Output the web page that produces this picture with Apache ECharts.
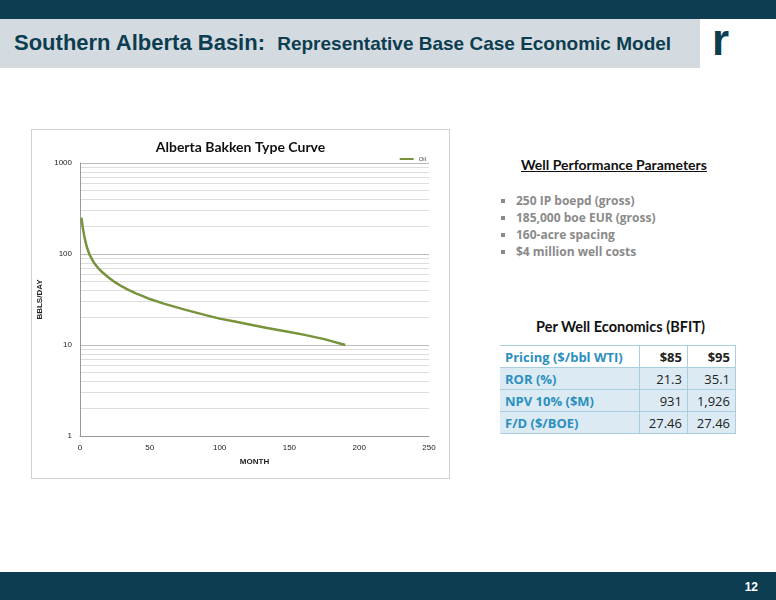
<!DOCTYPE html>
<html><head><meta charset="utf-8">
<script src="https://cdn.jsdelivr.net/npm/echarts@6/dist/echarts.min.js"></script>
<style>
body{margin:0;width:776px;height:600px;position:relative;background:#fff;font-family:Calibri,"Liberation Sans",Lato,sans-serif;overflow:hidden}
#top{position:absolute;left:0;top:0;width:776px;height:19px;background:#0d3d50}
#tbar{position:absolute;left:0;top:19px;width:700px;height:49px;background:#d3dbe0}
#title{position:absolute;left:14px;top:30px;font-family:"Liberation Sans",Arial,sans-serif;font-weight:bold;color:#0d3d50;font-size:22px}
#title span{font-size:19px}
#logo{position:absolute;left:712px;top:18px;width:46px;height:46px;color:#0d3d50;font:bold 44px "Liberation Sans";line-height:44px}
#bot{position:absolute;left:0;top:572px;width:776px;height:28px;background:#0d3d50;color:#fff;font:bold 12px "Liberation Sans"}
#bot span{position:absolute;right:18px;top:8px}
#chart{position:absolute;left:31px;top:129px;width:417px;height:348px;border:1px solid #d0d0d0}
.h{position:absolute;font-family:Lato,"Open Sans",sans-serif;font-weight:bold;color:#111}
ul{position:absolute;left:500px;top:192px;margin:0;padding:0 0 0 16px;list-style:square;color:#8a8a8a;font:bold 12px "Open Sans",sans-serif;line-height:17px}
table{position:absolute;left:500px;top:345px;border-collapse:collapse;font:13px "Open Sans",sans-serif;width:236px}
td{border:1px solid #a8cfe0;height:21px;padding:0 5px;color:#222;text-align:right}
td:first-child{text-align:left;color:#2c8fbf;border-left:none;font-weight:bold}
tr.a td{background:#dcebf3}
</style></head><body>
<div id="top"></div><div id="tbar"></div>
<div id="title">Southern Alberta Basin:&nbsp; <span>Representative Base Case Economic Model</span></div>
<div id="logo">r</div>
<div id="chart"></div>
<div class="h" style="left:521px;top:156px;font-size:14px;text-decoration:underline">Well Performance Parameters</div>
<ul><li>250 IP boepd (gross)</li><li>185,000 boe EUR (gross)</li><li>160-acre spacing</li><li>$4 million well costs</li></ul>
<div class="h" style="left:536px;top:318px;font-size:14.5px">Per Well Economics (BFIT)</div>
<table>
<tr><td>Pricing ($/bbl WTI)</td><td style="font-weight:bold">$85</td><td style="font-weight:bold">$95</td></tr>
<tr class="a"><td>ROR (%)</td><td>21.3</td><td>35.1</td></tr>
<tr class="a"><td>NPV 10% ($M)</td><td>931</td><td>1,926</td></tr>
<tr class="a"><td>F/D ($/BOE)</td><td>27.46</td><td>27.46</td></tr>
</table>
<div id="bot"><span>12</span></div>
<script>
const months=[1,2,3,4,5,7,10,13,16,20,25,30,35,40,45,50,60,75,90,100,110,125,135,150,160,175,190];
const oil=[250,195,160,135,118,97,80,70,63,56,49,44,40,37,34.5,32,28.5,24.5,21.3,19.5,18.2,16.4,15.3,13.9,13,11.6,10];
const xTicks=[0,50,100,150,200,250];
const c=echarts.init(document.getElementById('chart'));
c.setOption({
 animation:false,
 title:{text:'Alberta Bakken Type Curve',left:'center',top:5,textStyle:{fontSize:14,fontWeight:'bold',color:'#111',fontFamily:'Lato'}},
 legend:{right:18,top:21,itemWidth:14,itemHeight:2,textStyle:{fontSize:6,color:'#444'},icon:'rect',data:['Oil']},
 grid:{left:48,top:33,right:20,bottom:42,outerBoundsMode:'none',containLabel:false},
 xAxis:{type:'value',min:xTicks[0],max:xTicks[xTicks.length-1],interval:50,name:'MONTH',nameLocation:'middle',nameGap:22,
  nameTextStyle:{fontSize:8,fontWeight:'bold',color:'#222'},axisLabel:{fontSize:8,color:'#222'},
  axisLine:{lineStyle:{color:'#999'}},axisTick:{show:false},splitLine:{show:false}},
 yAxis:{type:'log',logBase:10,min:1,max:1000,name:'BBLS/DAY',nameLocation:'middle',nameGap:36,
  nameTextStyle:{fontSize:8,fontWeight:'bold',color:'#222'},axisLabel:{fontSize:8,color:'#222',formatter:v=>String(Math.round(v))},
  axisLine:{show:true,lineStyle:{color:'#999'}},axisTick:{show:false},
  splitLine:{lineStyle:{color:'#bbb'}},minorTick:{show:false,splitNumber:9},minorSplitLine:{show:true,lineStyle:{color:'#ddd'}}},
 series:[{name:'Oil',type:'line',data:months.map((m,i)=>[m,oil[i]]),smooth:false,showSymbol:false,lineStyle:{color:'#77933c',width:2.5,join:'round'},itemStyle:{color:'#77933c'}}]
});
</script></body></html>
